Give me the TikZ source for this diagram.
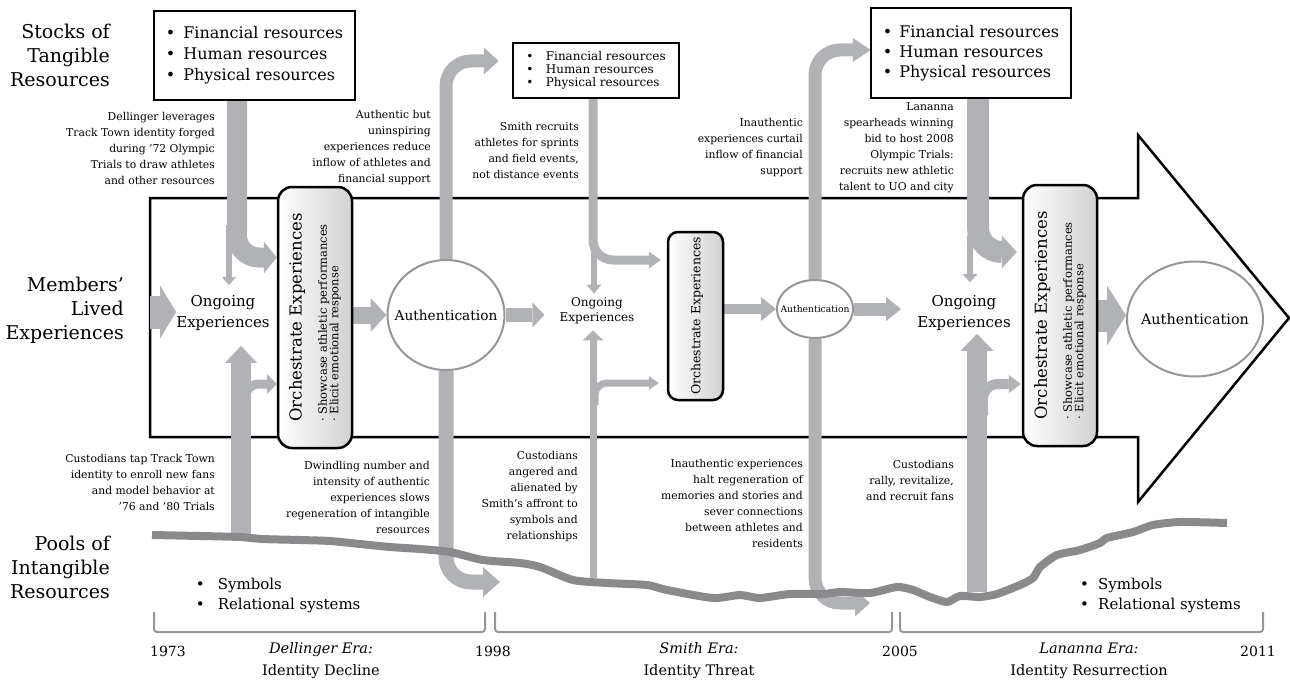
\documentclass[tikz,border=0pt]{standalone}
\usepackage{fontspec}
\setmainfont{DejaVu Serif}
\usetikzlibrary{arrows.meta,shapes.geometric}
\definecolor{flowgray}{RGB}{177,178,181}
\definecolor{poolgray}{RGB}{138,138,140}
\definecolor{rimgray}{RGB}{150,150,152}
\pgfdeclarelayer{back}
\pgfdeclarelayer{flows}
\pgfsetlayers{back,flows,main}
\tikzset{
  rowlabel/.style={anchor=east,align=right,inner sep=0pt,font=\fontsize{19}{24}\selectfont},
  note/.style={anchor=east,align=right,inner sep=0pt,font=\fontsize{10.8}{16}\selectfont},
  resbox/.style={draw,line width=2.5pt,fill=white,align=left,inner sep=0pt},
  orchbox/.style={draw,line width=2.5pt,rounded corners=14pt,left color=white,right color=black!18,inner sep=0pt},
  orchtext/.style={rotate=90,align=left,inner sep=0pt,font=\fontsize{11.5}{11.5}\selectfont},
  authring/.style={ellipse,draw=rimgray,line width=2pt,fill=white,inner sep=0pt},
  ongoing/.style={align=center,inner sep=0pt},
  flow/.style={draw=flowgray,line width=#1},
  head/.style 2 args={-{Triangle[length=#1,width=#2,line width=0pt]}},
  bracket/.style={draw=rimgray,line width=2pt,rounded corners=3pt},
  pool/.style={draw=poolgray,line width=8pt},
  yearlbl/.style={inner sep=0pt,font=\fontsize{14}{17}\selectfont},
  eralbl/.style={align=center,inner sep=0pt,font=\fontsize{14.5}{22}\selectfont},
}
\newcommand{\bul}[1]{\makebox[#1][l]{•}}
\newcommand{\orchbig}{\fontsize{16.5}{20}\selectfont}

\begin{document}
\begin{tikzpicture}[x=1pt,y=-1pt]
\useasboundingbox (0,0) rectangle (1290,682);

% row labels
\node[rowlabel] (stocks) at (110,55) {Stocks of\\Tangible\\Resources};
\node[rowlabel] (lived) at (124,310) {Members’\\Lived\\Experiences};
\node[rowlabel] (pools) at (110,567) {Pools of\\Intangible\\Resources};

% stocks of tangible resources
\node[resbox,minimum width=201pt,minimum height=89pt,font=\fontsize{16}{21}\selectfont] (tang1) at (254.5,55.5)
  {\bul{17.5pt}Financial resources\\\bul{17.5pt}Human resources\\\bul{17.5pt}Physical resources};
\node[resbox,minimum width=166pt,minimum height=55pt,font=\fontsize{12}{13}\selectfont] (tang2) at (596,70.5)
  {\bul{19.5pt}Financial resources\\\bul{19.5pt}Human resources\\\bul{19.5pt}Physical resources};
\node[resbox,minimum width=200pt,minimum height=90pt,font=\fontsize{16}{20}\selectfont] (tang3) at (971,53)
  {\bul{16.5pt}Financial resources\\\bul{16.5pt}Human resources\\\bul{16.5pt}Physical resources};

% lived experiences, 1973-1998
\node[ongoing,font=\fontsize{15}{21}\selectfont] (ongo1) at (223,313) {Ongoing\\Experiences};
\node[orchbox,minimum width=74pt,minimum height=261pt] (orch1) at (315,317.5) {};
\node[orchtext] (orch1txt) at (orch1.center)
  {{\orchbig Orchestrate Experiences}\\[12pt]· Showcase athletic performances\\· Elicit emotional response};
\node[authring,minimum width=117pt,minimum height=110pt] (auth1) at (446,315) {};
\node[font=\fontsize{13.7}{16}\selectfont] (auth1txt) at (auth1) {Authentication};

% 1998-2005
\node[ongoing,font=\fontsize{12}{15}\selectfont] (ongo2) at (597,311) {Ongoing\\Experiences};
\node[orchbox,rounded corners=10pt,minimum width=55pt,minimum height=168pt] (orch2) at (695.5,316) {};
\node[rotate=90,inner sep=0pt,font=\fontsize{12.5}{14}\selectfont] (orch2txt) at (697,316) {Orchestrate Experiences};
\node[authring,minimum width=76pt,minimum height=58pt] (auth2) at (815,309) {};
\node[font=\fontsize{9.2}{11}\selectfont] (auth2txt) at (auth2) {Authentication};

% 2005-2011
\node[ongoing,font=\fontsize{15}{21}\selectfont] (ongo3) at (964,313) {Ongoing\\Experiences};
\node[orchbox,minimum width=74pt,minimum height=261pt] (orch3) at (1060,315.5) {};
\node[orchtext] (orch3txt) at (orch3.center)
  {{\orchbig Orchestrate Experiences}\\[12pt]· Showcase athletic performances\\· Elicit emotional response};
\node[authring,minimum width=136pt,minimum height=115pt] (auth3) at (1195,319) {};
\node[font=\fontsize{14.4}{17}\selectfont] (auth3txt) at (auth3) {Authentication};

% notes
\node[note] (note1) at (215,148) {Dellinger leverages\\Track Town identity forged\\during ’72 Olympic\\Trials to draw athletes\\and other resources};
\node[note] (note2) at (431,148) {Authentic but\\uninspiring\\experiences reduce\\inflow of athletes and\\financial support};
\node[note] (note3) at (579,150) {Smith recruits\\athletes for sprints\\and field events,\\not distance events};
\node[note] (note4) at (803,148) {Inauthentic\\experiences curtail\\inflow of financial\\support};
\node[note] (note5) at (954,148) {Lananna\\spearheads winning\\bid to host 2008\\Olympic Trials:\\recruits new athletic\\talent to UO and city};
\node[note] (note6) at (215,482) {Custodians tap Track Town\\identity to enroll new fans\\and model behavior at\\’76 and ’80 Trials};
\node[note] (note7) at (430,497) {Dwindling number and\\intensity of authentic\\experiences slows\\regeneration of intangible\\resources};
\node[note] (note8) at (578,497) {Custodians\\angered and\\alienated by\\Smith’s affront to\\symbols and\\relationships};
\node[note] (note9) at (803,503) {Inauthentic experiences\\halt regeneration of\\memories and stories and\\sever connections\\between athletes and\\residents};
\node[note] (note10) at (954,480) {Custodians\\rally, revitalize,\\and recruit fans};

% pools of intangible resources
\node[anchor=west,align=left,inner sep=0pt,font=\fontsize{15}{20}\selectfont] (intang1) at (195.6,595)
  {\bul{22pt}Symbols\\\bul{22pt}Relational systems};
\node[anchor=west,align=left,inner sep=0pt,font=\fontsize{15}{20}\selectfont] (intang2) at (1080,595)
  {\bul{18pt}Symbols\\\bul{18pt}Relational systems};

% timeline
\node[yearlbl] (y1973) at (168,651) {1973};
\node[yearlbl] (y1998) at (493,651) {1998};
\node[yearlbl] (y2005) at (900,651) {2005};
\node[yearlbl] (y2011) at (1258,651) {2011};
\node[eralbl] (dellinger) at (321,661) {\textit{Dellinger Era:}\\Identity Decline};
\node[eralbl] (smith) at (699,661) {\textit{Smith Era:}\\Identity Threat};
\node[eralbl] (lananna) at (1089,661) {\textit{Lananna Era:}\\Identity Resurrection};
\draw[bracket] (154,612) -- (154,632) -- (485,632) -- (485,612);
\draw[bracket] (495,612) -- (495,632) -- (892,632) -- (892,612);
\draw[bracket] (900,612) -- (900,632) -- (1263,632) -- (1263,612);

% big arrow of lived experiences
\begin{pgfonlayer}{back}
\draw[line width=2.5pt] (150,198) -- (1138,198) -- (1138,135) -- (1289,318)
  -- (1138,502) -- (1138,437) -- (150,437) -- cycle;
\end{pgfonlayer}

\coordinate (entry) at (150,312);
\coordinate (split1) at (229,225);
\coordinate (lift1) at (241,537);
\coordinate (fork1) at (245,425);
\coordinate (dip1) at (500,582);
\coordinate (split2) at (594,235);
\coordinate (lift2) at (593,578);
\coordinate (fork2) at (595,405);
\coordinate (dip2) at (870,603);
\coordinate (split3) at (970,235);
\coordinate (lift3) at (977,592);
\coordinate (fork3) at (983,415);

\begin{pgfonlayer}{flows}
\draw[flow=33pt,head={16pt}{53pt}] (entry) -- (entry -| ongo1.west);
% Dellinger era
\draw[flow=6pt,head={8pt}{14pt},shorten >=10pt] (split1) -- (split1 |- ongo1.north);
\draw[flow=20pt,head={13pt}{32pt},rounded corners=22pt] ([xshift=-17.5pt]tang1.south) |- ([yshift=60pt]orch1.west);
\draw[flow=9pt,head={10pt}{20pt},rounded corners=14pt] (fork1) |- ([yshift=-66.5pt]orch1.west);
\draw[flow=20pt,head={17pt}{32pt},shorten >=15pt] (lift1) -- (lift1 |- ongo1.south);
\draw[flow=17pt,head={16pt}{34pt}] (orch1.east |- auth1.west) -- (auth1.west);
\draw[flow=13pt,head={15pt}{27pt},rounded corners=25pt] (auth1.north) |- ([xshift=-13pt,yshift=9.5pt]tang2.west);
\draw[flow=15pt,head={17pt}{30pt},rounded corners=25pt] (auth1.south) |- (dip1);
\draw[flow=14pt,head={12pt}{25pt},shorten >=15pt] (auth1.east) -- (auth1.east -| ongo2.west);
% Smith era
\draw[flow=6pt,head={9pt}{15pt},shorten >=4pt] (split2) -- (split2 |- ongo2.north);
\draw[flow=9pt,head={12pt}{17pt},rounded corners=20pt] ([xshift=-3pt]tang2.south) |- ([xshift=-6pt,yshift=56pt]orch2.west);
\draw[flow=7pt,head={10pt}{14pt},rounded corners=12pt] (fork2) |- ([xshift=-8pt,yshift=-67pt]orch2.west);
\draw[flow=7pt,head={10pt}{21pt},shorten >=6pt] (lift2) -- (lift2 |- ongo2.south);
\draw[flow=10pt,head={15pt}{24pt}] (orch2.east |- auth2.west) -- (auth2.west);
\draw[flow=13pt,head={18pt}{24pt},rounded corners=25pt] (auth2.north) |- ([xshift=1pt,yshift=3pt]tang3.west);
\draw[flow=13pt,head={15pt}{27pt},rounded corners=25pt] (auth2.south) |- (dip2);
\draw[flow=13pt,head={15pt}{24pt},shorten >=16pt] (auth2.east) -- (auth2.east -| ongo3.west);
% Lananna era
\draw[flow=6pt,head={8pt}{15pt},shorten >=13pt] (split3) -- (split3 |- ongo3.north);
\draw[flow=22pt,head={15pt}{33pt},rounded corners=24pt] ([xshift=7pt]tang3.south) |- ([xshift=-5pt,yshift=63.5pt]orch3.west);
\draw[flow=10pt,head={12pt}{18pt},rounded corners=15pt] (fork3) |- ([xshift=-1pt,yshift=-68.5pt]orch3.west);
\draw[flow=20pt,head={17pt}{33pt},shorten >=3pt] (lift3) -- (lift3 |- ongo3.south);
\draw[flow=32pt,head={19pt}{60pt}] (orch3.east) -- (orch3.east -| auth3.west);
% level of intangible resources
\draw[pool] plot[smooth,tension=0.4] coordinates {(152,535) (200,536) (240,537) (262,539) (300,540)
  (330,541) (360,544) (390,547) (420,549) (450,552) (483,560) (520,563) (540,567) (573,580) (607,583)
  (647,585) (667,590) (713,598) (740,595) (760,598) (790,594) (823,594) (840,592) (870,593) (897,587)
  (913,590) (930,597) (947,602) (960,596) (980,597) (997,594) (1020,585) (1033,578) (1040,567)
  (1057,555) (1080,550) (1100,543) (1107,538) (1133,532) (1153,525) (1180,522) (1227,523)};
\end{pgfonlayer}
\end{tikzpicture}
\end{document}
